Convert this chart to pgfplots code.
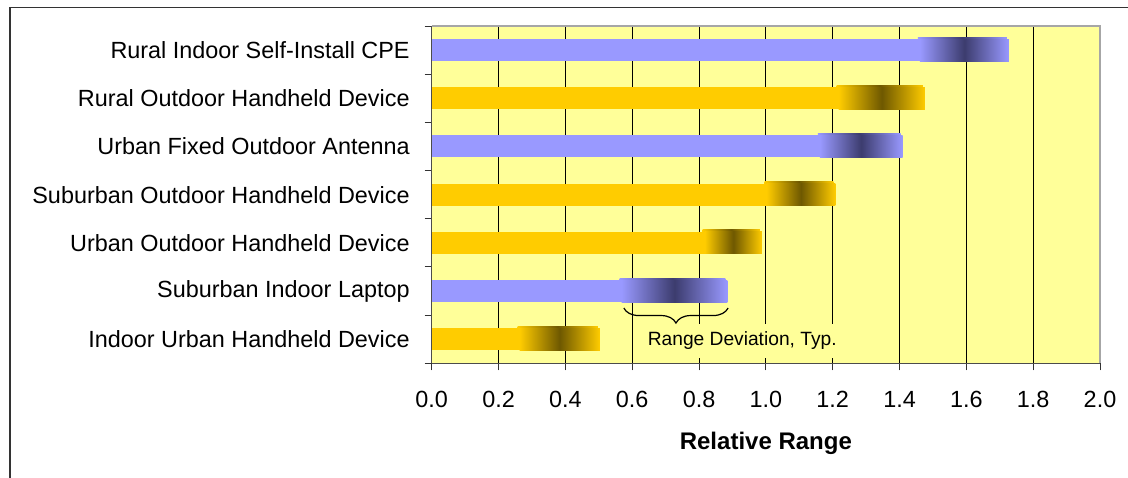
\documentclass[border=0pt]{standalone}
\usepackage{fontspec}
\setmainfont{Liberation Sans}
\usepackage{pgfplots}
\pgfplotsset{compat=1.18}
\usetikzlibrary{decorations.pathreplacing}

\definecolor{plotbg}{HTML}{FFFF99}
\definecolor{barblue}{HTML}{9999FF}
\definecolor{barblueDark}{HTML}{3C3C6E}
\definecolor{barblueEdge}{HTML}{D4D4FF}
\definecolor{barorange}{HTML}{FFCC00}
\definecolor{barorangeDark}{HTML}{6E5800}
\definecolor{barorangeEdge}{HTML}{FFEB8C}
\definecolor{framegray}{HTML}{A6A6A6}

\pgfplotsset{
  rangeaxis/.style={
    at={(215.85pt,56.85pt)}, anchor=south west,
    scale only axis, width=334.15pt, height=168.65pt,
    xmin=0, xmax=2, ymin=-0.5, ymax=6.5,
    xbar stacked, bar width=0.457, clip=false,
  },
  % one overlay axis per scenario, so that each deviation bar gets its own shading
  baraxis/.style={rangeaxis, hide axis},
  orange nominal/.style={fill=barorange, draw=none},
  orange deviation/.style={draw=none, left color=barorange, right color=barorange,
    middle color=barorangeDark,
    preaction={fill=barorangeEdge, transform canvas={xshift=-1pt, yshift=1pt}}},
  blue nominal/.style={fill=barblue, draw=none},
  blue deviation/.style={draw=none, left color=barblue, right color=barblue,
    middle color=barblueDark,
    preaction={fill=barblueEdge, transform canvas={xshift=-1pt, yshift=1pt}}},
}

\begin{document}
\begin{tikzpicture}
\path[use as bounding box] (0,0) rectangle (564pt,238.5pt);
% outer chart frame
\draw[black!80, line width=0.75pt] (5pt,-20pt) -- (5pt,234.85pt) -- (600pt,234.85pt);

\begin{axis}[
  rangeaxis,
  axis background/.style={fill=plotbg},
  axis x line*=bottom, axis y line*=left,
  axis line style={draw=black!70, line width=0.6pt},
  tick align=outside,
  major tick length=3.5pt,
  tick style={black!80, line width=0.5pt},
  xtick={0,0.2,0.4,0.6,0.8,1.0,1.2,1.4,1.6,1.8,2.0},
  xticklabel style={yshift=-7pt},
  /pgf/number format/fixed,
  /pgf/number format/fixed zerofill,
  /pgf/number format/precision=1,
  /pgf/number format/assume math mode=true,
  tick label style={font=\fontsize{11.7}{14}\selectfont},
  ytick={-0.5,0.5,1.5,2.5,3.5,4.5,5.5,6.5},
  yticklabels={,,,,,,,},
  extra y ticks={0,1,2,3,4,5,6},
  extra y tick labels={Indoor Urban Handheld Device,Suburban Indoor Laptop,Urban Outdoor Handheld Device,Suburban Outdoor Handheld Device,Urban Fixed Outdoor Antenna,Rural Outdoor Handheld Device,Rural Indoor Self-Install CPE},
  extra y tick style={major tick length=0pt, yticklabel style={xshift=-7.5pt}},
  xmajorgrids=true,
  grid style={black, line width=0.5pt},
  xlabel={Relative Range},
  xlabel style={at={(axis description cs:0.5,-0.256)}, anchor=base,
    font=\bfseries\fontsize{12}{14}\selectfont},
]
\draw[framegray, line width=1pt] (rel axis cs:0,1) -- (rel axis cs:1,1) -- (rel axis cs:1,0);
\draw[black, line width=0.6pt, decorate, decoration={brace, mirror, amplitude=7.5pt}]
  (axis cs:0.575,0.647) -- (axis cs:0.887,0.647);
\node[anchor=base west, fill=plotbg, inner xsep=2.5pt, inner ysep=4pt,
  font=\fontsize{9.6}{11}\selectfont] at (axis cs:0.6305,-0.135) {Range Deviation, Typ.};
\end{axis}

% Indoor Urban Handheld Device
\begin{axis}[baraxis]
\addplot[orange nominal] coordinates {(0.263,0)};
\addplot[orange deviation] coordinates {(0.240,0)};
\end{axis}
% Suburban Indoor Laptop
\begin{axis}[baraxis]
\addplot[blue nominal] coordinates {(0.568,1)};
\addplot[blue deviation] coordinates {(0.317,1)};
\end{axis}
% Urban Outdoor Handheld Device
\begin{axis}[baraxis]
\addplot[orange nominal] coordinates {(0.817,2)};
\addplot[orange deviation] coordinates {(0.171,2)};
\end{axis}
% Suburban Outdoor Handheld Device
\begin{axis}[baraxis]
\addplot[orange nominal] coordinates {(1.002,3)};
\addplot[orange deviation] coordinates {(0.206,3)};
\end{axis}
% Urban Fixed Outdoor Antenna
\begin{axis}[baraxis]
\addplot[blue nominal] coordinates {(1.162,4)};
\addplot[blue deviation] coordinates {(0.247,4)};
\end{axis}
% Rural Outdoor Handheld Device
\begin{axis}[baraxis]
\addplot[orange nominal] coordinates {(1.218,5)};
\addplot[orange deviation] coordinates {(0.258,5)};
\end{axis}
% Rural Indoor Self-Install CPE
\begin{axis}[baraxis]
\addplot[blue nominal] coordinates {(1.461,6)};
\addplot[blue deviation] coordinates {(0.266,6)};
\end{axis}
\end{tikzpicture}
\end{document}
